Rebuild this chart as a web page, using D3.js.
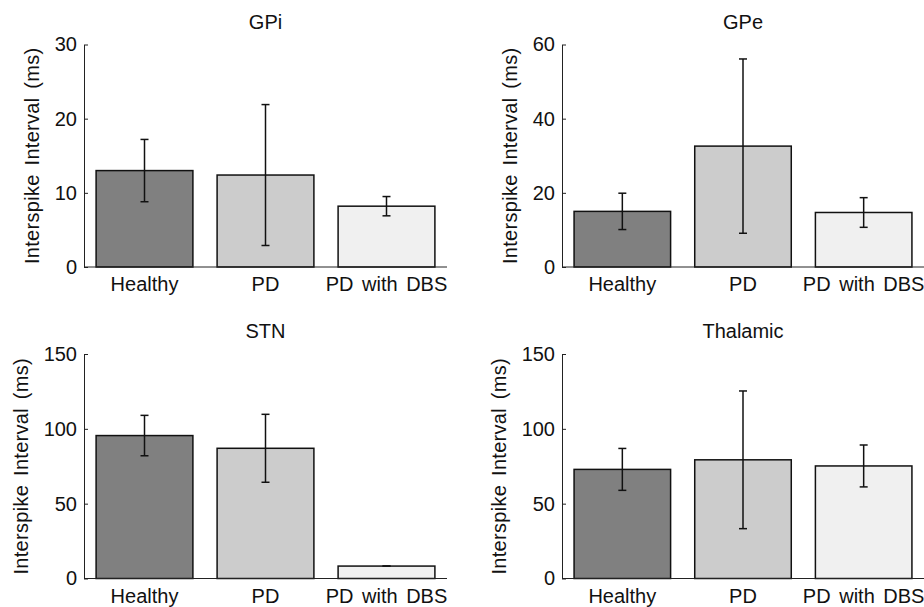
<!DOCTYPE html>
<html>
<head>
  <meta charset="utf-8">
  <style>
    body { margin: 0; background: #fff; }
    svg text { font-family: "Liberation Sans", Arial, sans-serif; font-size: 20px; fill: #111; }
  </style>
</head>
<body>
<div id="chart"></div>
<script src="https://d3js.org/d3.v7.min.js"></script>
<script>
  const groups = ["Healthy", "PD", "PD with DBS"];
  const regions = ["GPi", "GPe", "STN", "Thalamic"];
  const yMax = [30, 60, 150, 150];
  const yTicks = [[0, 10, 20, 30], [0, 20, 40, 60], [0, 50, 100, 150], [0, 50, 100, 150]];

  // mean interspike interval and error (ms) for each group
  const gpiMean = [13.0, 12.4, 8.2];
  const gpiErr = [4.2, 9.5, 1.3];
  const gpeMean = [15.0, 32.6, 14.7];
  const gpeErr = [4.9, 23.5, 4.0];
  const stnMean = [95.5, 87.0, 8.3];
  const stnErr = [13.5, 22.7, 0];
  const thalMean = [72.9, 79.3, 75.2];
  const thalErr = [14.0, 46.0, 14.0];

  const means = [gpiMean, gpeMean, stnMean, thalMean];
  const errs = [gpiErr, gpeErr, stnErr, thalErr];
  const fills = ["#808080", "#cccccc", "#f0f0f0"];

  const width = 924, height = 607;
  // plot boxes: [left, right, top, bottom]
  const boxes = [
    [84, 447, 44.5, 267],
    [562, 924, 44.5, 267],
    [84, 447, 354, 578.5],
    [562, 924, 354, 578.5]
  ];

  const svg = d3.select('#chart')
    .append('svg')
    .attr('width', width)
    .attr('height', height);

  regions.forEach((name, i) => {
    const [x0, x1, y0, y1] = boxes[i];
    const g = svg.append('g');

    const x = d3.scaleBand()
      .domain(groups)
      .range([x0, x1])
      .paddingInner(0.2)
      .paddingOuter(0.1);

    const y = d3.scaleLinear()
      .domain([0, yMax[i]])
      .range([y1, y0]);

    const rows = groups.map((k, j) => ({ k: k, m: means[i][j], e: errs[i][j], c: fills[j] }));

    // bars
    g.selectAll('rect')
      .data(rows)
      .enter()
      .append('rect')
      .attr('x', d => x(d.k))
      .attr('width', x.bandwidth())
      .attr('y', d => y(d.m))
      .attr('height', d => y(0) - y(d.m))
      .attr('fill', d => d.c)
      .attr('stroke', '#111')
      .attr('stroke-width', 1.5);

    // error bars
    const eb = g.selectAll('.err')
      .data(rows)
      .enter()
      .append('g')
      .attr('class', 'err')
      .attr('stroke', '#111')
      .attr('stroke-width', 1.5);
    eb.append('line')
      .attr('x1', d => x(d.k) + x.bandwidth() / 2)
      .attr('x2', d => x(d.k) + x.bandwidth() / 2)
      .attr('y1', d => y(d.m - d.e))
      .attr('y2', d => y(d.m + d.e));
    [-1, 1].forEach(s => {
      eb.append('line')
        .attr('x1', d => x(d.k) + x.bandwidth() / 2 - 4)
        .attr('x2', d => x(d.k) + x.bandwidth() / 2 + 4)
        .attr('y1', d => y(d.m + s * d.e))
        .attr('y2', d => y(d.m + s * d.e));
    });

    // y axis, ticks pointing inward
    const ya = g.append('g')
      .attr('transform', `translate(${x0},0)`)
      .call(d3.axisLeft(y).tickValues(yTicks[i]).tickSizeInner(-4).tickSizeOuter(0).tickPadding(7));
    ya.select('.domain').attr('stroke', '#222');
    ya.selectAll('.tick line').attr('stroke', '#222');
    ya.selectAll('text').attr('font-size', null).attr('font-family', null);

    // x axis baseline and labels
    g.append('line')
      .attr('x1', x0).attr('x2', x1)
      .attr('y1', y(0)).attr('y2', y(0))
      .attr('stroke', '#222');
    const xa = g.append('g')
      .attr('transform', `translate(0,${y(0)})`)
      .call(d3.axisBottom(x).tickSize(0).tickPadding(10));
    xa.select('.domain').remove();
    xa.selectAll('text').attr('font-size', null).attr('font-family', null)
      .style('word-spacing', '3px');

    // title
    g.append('text')
      .attr('x', (x0 + x1) / 2)
      .attr('y', y0 - 16)
      .attr('text-anchor', 'middle')
      .text(name);

    // y label
    const off = 30 + String(yMax[i]).length * 11;
    g.append('text')
      .attr('transform', `translate(${x0 - off},${(y0 + y1) / 2}) rotate(-90)`)
      .attr('text-anchor', 'middle')
      .attr('dy', '0.35em')
      .style('word-spacing', '3px')
      .style('letter-spacing', '0.3px')
      .text('Interspike Interval (ms)');
  });
</script>
</body>
</html>
